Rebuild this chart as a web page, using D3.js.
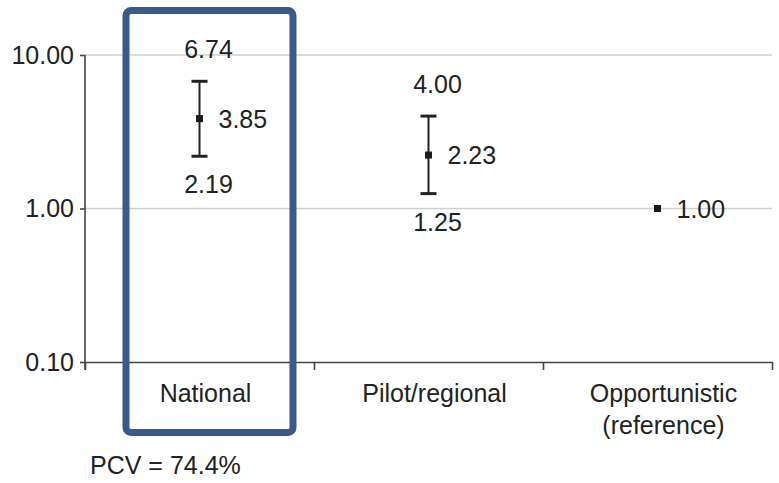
<!DOCTYPE html>
<html>
<head>
<meta charset="utf-8">
<script src="https://cdn.jsdelivr.net/npm/d3@7/dist/d3.min.js"></script>
<style>
  html, body { margin: 0; padding: 0; background: #fff; }
  svg { display: block; }
  text { font-family: "Liberation Sans", Arial, sans-serif; fill: #222; }
</style>
</head>
<body>
<svg id="chart" width="779" height="483"></svg>
<script>
// Odds ratios with 95% confidence intervals by programme type
const categories = ["National", "Pilot/regional", "Opportunistic\n(reference)"];
const estimates  = [3.85, 2.23, 1.00];
const lowerCI    = [2.19, 1.25, null];
const upperCI    = [6.74, 4.00, null];
const yTicks     = [0.1, 1, 10];
const footnote   = "PCV = 74.4%";
const highlighted = "National";

const plot = { left: 85, right: 772, top: 55, bottom: 362 };
const fs = 25;

const svg = d3.select("#chart");

const x = d3.scaleBand().domain(categories).range([plot.left, plot.right]).padding(0);
const y = d3.scaleLog().domain([0.1, 10]).range([plot.bottom, plot.top]);

// horizontal reference lines
svg.append("g").selectAll("line")
  .data(yTicks.filter(d => d > 0.1))
  .join("line")
  .attr("x1", plot.left).attr("x2", plot.right)
  .attr("y1", d => y(d)).attr("y2", d => y(d))
  .attr("stroke", "#cfcfcf").attr("stroke-width", 1.6);

// y axis
const yAxis = svg.append("g")
  .attr("transform", `translate(${plot.left},0)`)
  .call(d3.axisLeft(y).tickValues(yTicks).tickFormat(d3.format(".2f")).tickSize(5).tickPadding(6));
yAxis.select(".domain").attr("stroke", "#444").attr("stroke-width", 1.6)
  .attr("d", `M0,${plot.top}V${plot.bottom + 8}`);
yAxis.selectAll(".tick line").attr("stroke", "#444").attr("stroke-width", 1.6);
yAxis.selectAll(".tick text").attr("font-size", fs).attr("fill", "#222")
  .style("font-family", "Liberation Sans, Arial, sans-serif");

// x axis with ticks at band boundaries
const xb = d3.scaleLinear().domain([0, categories.length]).range([plot.left, plot.right]);
const xAxis = svg.append("g")
  .attr("transform", `translate(0,${plot.bottom})`)
  .call(d3.axisBottom(xb).tickValues(d3.range(categories.length + 1)).tickFormat("").tickSize(8).tickSizeOuter(0));
xAxis.select(".domain").attr("stroke", "#444").attr("stroke-width", 1.6);
xAxis.selectAll(".tick line").attr("stroke", "#444").attr("stroke-width", 1.6);

// category labels
const catLabels = svg.append("g");
categories.forEach(c => {
  const lines = c.split("\n");
  const cx = x(c) + x.bandwidth() / 2 + 6;
  const t = catLabels.append("text")
    .attr("x", cx)
    .attr("y", 393)
    .attr("text-anchor", "middle")
    .attr("font-size", fs);
  lines.forEach((ln, i) => {
    t.append("tspan")
      .attr("x", cx)
      .attr("dy", i === 0 ? "0.35em" : 32)
      .text(ln);
  });
});

// error bars, points and value labels
const g = svg.append("g");
categories.forEach((c, i) => {
  const cx = x(c) + x.bandwidth() / 2;
  const est = estimates[i], lo = lowerCI[i], hi = upperCI[i];
  if (lo != null && hi != null) {
    g.append("line").attr("x1", cx).attr("x2", cx)
      .attr("y1", y(lo)).attr("y2", y(hi))
      .attr("stroke", "#222").attr("stroke-width", 2);
    [lo, hi].forEach(v => {
      g.append("line").attr("x1", cx - 8).attr("x2", cx + 8)
        .attr("y1", y(v)).attr("y2", y(v))
        .attr("stroke", "#222").attr("stroke-width", 3);
    });
    g.append("text").attr("x", cx + 9).attr("y", y(hi) - 32)
      .attr("text-anchor", "middle").attr("dominant-baseline", "central")
      .attr("font-size", fs).text(d3.format(".2f")(hi));
    g.append("text").attr("x", cx + 9).attr("y", y(lo) + 28)
      .attr("text-anchor", "middle").attr("dominant-baseline", "central")
      .attr("font-size", fs).text(d3.format(".2f")(lo));
  }
  g.append("rect").attr("x", cx - 3.5).attr("y", y(est) - 3.5)
    .attr("width", 7).attr("height", 7).attr("fill", "#1a1a1a");
  g.append("text").attr("x", cx + 19).attr("y", y(est))
    .attr("dominant-baseline", "central")
    .attr("font-size", fs).text(d3.format(".2f")(est));
});

// highlight frame around the selected category
const hx = x(highlighted);
svg.append("rect")
  .attr("x", hx + 41).attr("y", 10.5)
  .attr("width", x.bandwidth() - 62).attr("height", 422)
  .attr("rx", 5).attr("ry", 5)
  .attr("fill", "none").attr("stroke", "#3a5a8c").attr("stroke-width", 7);

// footnote
svg.append("text").attr("x", 90).attr("y", 465)
  .attr("dominant-baseline", "central")
  .attr("font-size", fs).text(footnote);
</script>
</body>
</html>
